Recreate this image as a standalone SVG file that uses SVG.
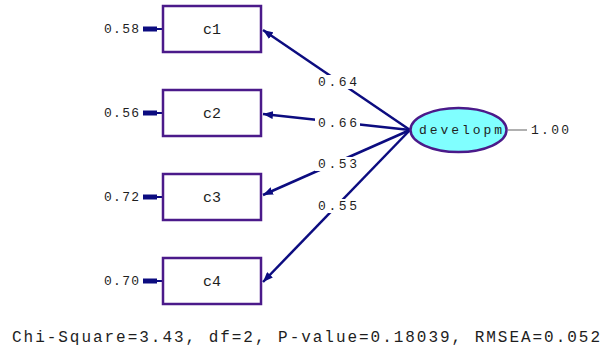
<svg xmlns="http://www.w3.org/2000/svg" width="605" height="350" viewBox="0 0 605 350">
<style>
.box{fill:#fff;stroke:#4b1a8a;stroke-width:2.5}
.lat{fill:#80ffff;stroke:#4b1a8a;stroke-width:2.5}
.path{stroke:#0c0c80;stroke-width:2.5;fill:none}
.lbl{font-family:"Liberation Mono",monospace;font-size:13px;fill:#1e1e1e}
.nm{font-family:"Liberation Mono",monospace;font-size:15px;fill:#1e1e1e}
.bg{fill:#fff}
.err{stroke:#0c0c80;stroke-width:5}
.errt{stroke:#0c0c80;stroke-width:2}
</style>
<defs>
<marker id="ah" viewBox="0 0 10 8" refX="10" refY="4" markerWidth="10" markerHeight="8" markerUnits="userSpaceOnUse" orient="auto">
<path d="M0,0 L10,4 L0,8 Z" fill="#0c0c80"/>
</marker>
</defs>
<g id="connectors">
<line class="path" x1="410" y1="130" x2="263" y2="30" marker-end="url(#ah)"/>
<line class="path" x1="410" y1="130" x2="263" y2="114" marker-end="url(#ah)"/>
<line class="path" x1="410" y1="130" x2="263" y2="195" marker-end="url(#ah)"/>
<line class="path" x1="410" y1="130" x2="263" y2="282" marker-end="url(#ah)"/>
<line x1="508" y1="130" x2="527" y2="130" stroke="#b0b0b0" stroke-width="2"/>
<rect class="bg" x="315" y="75" width="45" height="14"/>
<rect class="bg" x="315" y="116" width="45" height="14"/>
<rect class="bg" x="315" y="157" width="45" height="14"/>
<rect class="bg" x="315" y="199" width="45" height="14"/>
<text class="lbl" x="318" y="86" textLength="39">0.64</text>
<text class="lbl" x="318" y="127" textLength="39">0.66</text>
<text class="lbl" x="318" y="168" textLength="39">0.53</text>
<text class="lbl" x="318" y="210" textLength="39">0.55</text>
</g>
<g id="c1">
<line class="err" x1="143" y1="29" x2="157" y2="29"/><line class="errt" x1="156" y1="29" x2="163" y2="29"/>
<text class="lbl" x="104" y="33" textLength="35">0.58</text>
<rect class="box" x="163" y="6" width="98" height="46"/>
<text class="nm" x="212" y="34" text-anchor="middle">c1</text>
</g>
<g id="c2">
<line class="err" x1="143" y1="113" x2="157" y2="113"/><line class="errt" x1="156" y1="113" x2="163" y2="113"/>
<text class="lbl" x="104" y="117" textLength="35">0.56</text>
<rect class="box" x="163" y="90" width="98" height="46"/>
<text class="nm" x="212" y="118" text-anchor="middle">c2</text>
</g>
<g id="c3">
<line class="err" x1="143" y1="197" x2="157" y2="197"/><line class="errt" x1="156" y1="197" x2="163" y2="197"/>
<text class="lbl" x="104" y="201" textLength="35">0.72</text>
<rect class="box" x="163" y="174" width="98" height="46"/>
<text class="nm" x="212" y="202" text-anchor="middle">c3</text>
</g>
<g id="c4">
<line class="err" x1="143" y1="281" x2="157" y2="281"/><line class="errt" x1="156" y1="281" x2="163" y2="281"/>
<text class="lbl" x="104" y="285" textLength="35">0.70</text>
<rect class="box" x="163" y="258" width="98" height="46"/>
<text class="nm" x="212" y="286" text-anchor="middle">c4</text>
</g>
<g id="developm">
<ellipse class="lat" cx="458.5" cy="130" rx="48" ry="22"/>
<text class="lbl" x="419" y="134" textLength="83" font-size="14">developm</text>
<text class="lbl" x="531" y="134" textLength="38">1.00</text>
</g>
<text x="12" y="342" font-family="Liberation Mono, monospace" font-size="16" fill="#1e1e1e" textLength="588">Chi-Square=3.43, df=2, P-value=0.18039, RMSEA=0.052</text>
</svg>
